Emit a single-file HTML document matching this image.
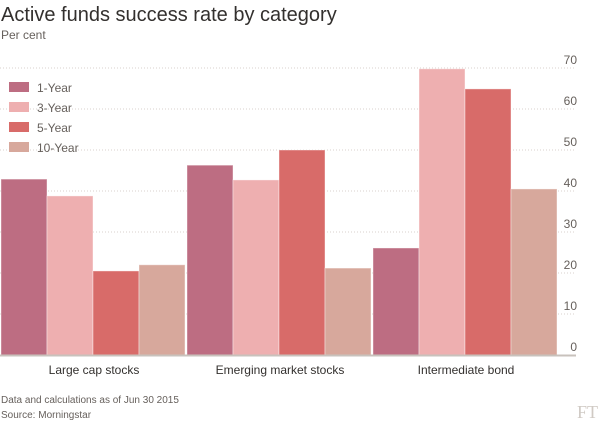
<!DOCTYPE html>
<html><head><meta charset="utf-8"><style>
body{margin:0;background:#fff;width:600px;height:422px;overflow:hidden;font-family:"Liberation Sans",sans-serif}
</style></head><body>
<svg width="600" height="422" font-family="Liberation Sans, sans-serif">
<text x="1" y="21" font-size="20" fill="#33302e">Active funds success rate by category</text>
<text x="1" y="39" font-size="12" fill="#66605c">Per cent</text>
<g id="grid"></g><g id="bars"></g><g id="labels"></g>
<g font-size="12" fill="#66605c">
<rect x="9" y="82" width="20" height="10" fill="#bd6d82"/><text x="37" y="92">1-Year</text>
<rect x="9" y="102" width="20" height="10" fill="#eeafb0"/><text x="37" y="112">3-Year</text>
<rect x="9" y="122" width="20" height="10" fill="#d86b69"/><text x="37" y="132">5-Year</text>
<rect x="9" y="142" width="20" height="10" fill="#d7a89c"/><text x="37" y="152">10-Year</text>
</g>
<text x="1" y="403" font-size="10" fill="#66605c">Data and calculations as of Jun 30 2015</text>
<text x="1" y="418" font-size="10" fill="#66605c">Source: Morningstar</text>
<text x="598" y="418" font-size="18" fill="#d0cac4" text-anchor="end" font-family="Liberation Serif, serif">FT</text>
</svg>
<script>
const categories=["Large cap stocks","Emerging market stocks","Intermediate bond"];
const series1Y=[42.9,46.3,26.1];
const series3Y=[38.8,42.7,69.8];
const series5Y=[20.5,50,64.9];
const series10Y=[22,21.2,40.5];
const ticks=[0,10,20,30,40,50,60,70];
const colors=["#bd6d82","#eeafb0","#d86b69","#d7a89c"];
const names=["1y","3y","5y","10y"];
const NS="http://www.w3.org/2000/svg";
const y=v=>355-v*4.1;
const gx=i=>2+i*186, bw=46;
function mk(t,a,p){const e=document.createElementNS(NS,t);for(const k in a)e.setAttribute(k,a[k]);p.appendChild(e);return e;}
const grid=document.getElementById('grid'),bars=document.getElementById('bars'),labels=document.getElementById('labels');
ticks.forEach(t=>{
 if(t>0){const l=mk('line',{x1:0,x2:576,y1:y(t),y2:y(t),stroke:'#d8d2cc','stroke-dasharray':'1,2'},grid);
 
 }
 const tx=mk('text',{x:577,y:y(t)-4,'text-anchor':'end','font-size':12,fill:'#66605c'},labels);
 tx.textContent=t;
 
 
});
const all=[series1Y,series3Y,series5Y,series10Y];
categories.forEach((c,i)=>{
 all.forEach((s,j)=>{
  const r=mk('rect',{x:gx(i)+j*bw-1,y:y(s[i]),width:bw,height:y(0)-y(s[i]),fill:colors[j],stroke:'#fff','stroke-opacity':0.4},bars);
  
  
 });
 const t=mk('text',{x:gx(i)+92,y:374,'text-anchor':'middle','font-size':12,fill:'#33302e'},labels);
 t.textContent=c;
 
 
});
const base=mk('line',{x1:0,x2:576,y1:355.5,y2:355.5,stroke:'#c8c2bc','stroke-width':2},labels);


</script>
</body></html>
